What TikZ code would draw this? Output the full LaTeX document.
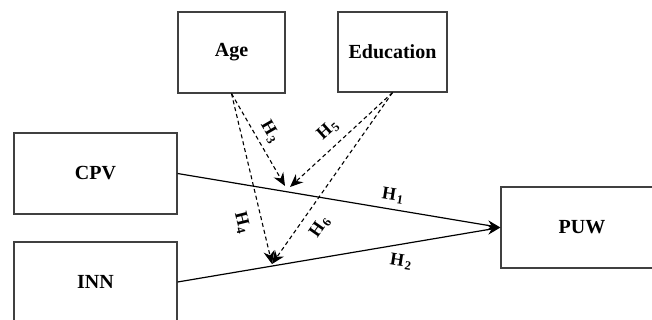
\documentclass[tikz,border=0pt]{standalone}
\usepackage{fontspec}
\setmainfont{Liberation Serif}
\usetikzlibrary{arrows.meta}
\begin{document}
\begin{tikzpicture}[x=1pt,y=-1pt,
  varbox/.style={draw=black!75,line width=1.2pt,inner sep=0pt,font=\fontsize{20}{24}\selectfont\bfseries},
  path/.style={line width=1.2pt,-{Stealth[length=13pt,width=10pt]}},
  modpath/.style={line width=1.1pt,dash pattern=on 4pt off 3pt,-{Stealth[length=13pt,width=11pt]}},
  hlab/.style={font=\fontsize{18}{20}\selectfont\bfseries,inner sep=0pt}]
\path[use as bounding box] (0,0) rectangle (652,320);
\node[varbox,minimum width=107pt,minimum height=81pt] (age) at (231.5,52.5) {Age};
\node[varbox,minimum width=109pt,minimum height=80pt] (edu) at (392.5,52) {Education};
\node[varbox,minimum width=163pt,minimum height=81pt] (cpv) at (95.5,173.5) {CPV};
\node[varbox,minimum width=163pt,minimum height=80pt] (inn) at (95.5,282) {INN};
\node[varbox,minimum width=162pt,minimum height=81pt] (puw) at (582,227.5) {PUW};
\coordinate (m1) at (285,186);
\coordinate (m1b) at (290,187);
\coordinate (m2) at (272,264);
\draw[path] (cpv.east) -- (puw.west);
\draw[path] (inn.east) -- (puw.west);
\draw[modpath] (age.south) -- (m1);
\draw[modpath] (age.south) -- (m2);
\draw[modpath] (edu.south) -- (m1b);
\draw[modpath] (edu.south) -- (m2);
\node[hlab,rotate=-60] (h3) at (270,132) {H\kern1.2pt\textsubscript{3}};
\node[hlab,rotate=42] (h5) at (328,130) {H\kern1.2pt\textsubscript{5}};
\node[hlab,rotate=-76] (h4) at (242,223) {H\kern1.2pt\textsubscript{4}};
\node[hlab,rotate=55] (h6) at (320,227) {H\kern1.2pt\textsubscript{6}};
\node[hlab,rotate=-9] (h1) at (393,196) {H\kern1.2pt\textsubscript{1}};
\node[hlab,rotate=-9] (h2) at (401,262) {H\kern1.2pt\textsubscript{2}};
\end{tikzpicture}
\end{document}
